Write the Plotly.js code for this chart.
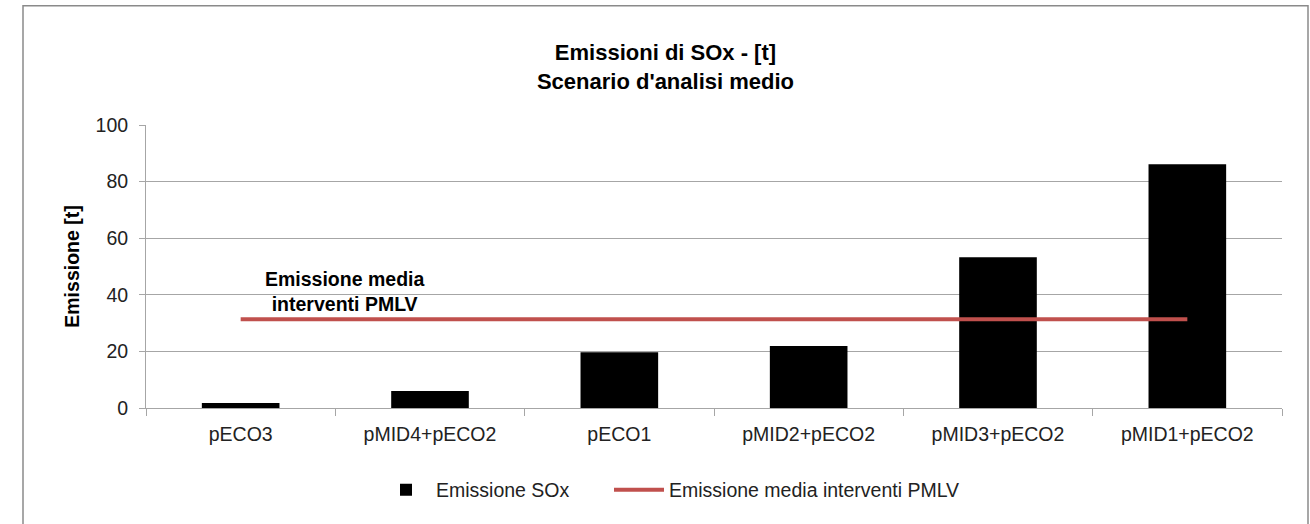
<!DOCTYPE html>
<html>
<head>
<meta charset="utf-8">
<script src="https://cdn.plot.ly/plotly-3.0.1.min.js"></script>
<style>
  html, body { margin: 0; padding: 0; background: #ffffff; }
  #chart { width: 1310px; height: 524px; }
</style>
</head>
<body>
<div id="chart"></div>
<script>
// ---- Data ----
const categories = ["pECO3", "pMID4+pECO2", "pECO1", "pMID2+pECO2", "pMID3+pECO2", "pMID1+pECO2"];
const soxValues = [1.8, 6.0, 19.7, 21.9, 53.3, 86.1];
const meanValue = 31.4;
const meanValues = categories.map(() => meanValue);
const barName = "Emissione SOx";
const lineName = "Emissione media interventi PMLV";
const titleLines = ["Emissioni di SOx - [t]", "Scenario d'analisi medio"];
const yTitle = "Emissione [t]";
const annotationText = "Emissione media<br>interventi PMLV";
const yTicks = [0, 20, 40, 60, 80, 100];

const FONT = "Liberation Sans, Arial, sans-serif";

const traces = [
  {
    type: "bar",
    x: categories,
    y: soxValues,
    name: barName,
    marker: { color: "#000000" },
    legend: "legend",
    hoverinfo: "x+y"
  },
  {
    type: "scatter",
    mode: "lines",
    x: categories,
    y: meanValues,
    name: lineName,
    legend: "legend2",
    line: { color: "#c0504d", width: 4 }
  }
];

const legendCommon = {
  orientation: "h",
  xanchor: "left",
  y: -0.29, yanchor: "middle",
  font: { family: FONT, size: 19.5, color: "#222222" },
  bgcolor: "rgba(0,0,0,0)",
  itemwidth: 50
};

const layout = {
  width: 1310,
  height: 524,
  margin: { l: 146, r: 28, t: 124.5, b: 116, autoexpand: false },
  paper_bgcolor: "#ffffff",
  plot_bgcolor: "#ffffff",
  font: { family: FONT, color: "#000000", size: 18 },
  bargap: 0.59,
  showlegend: true,
  title: {
    text: "<b>" + titleLines.join("<br>") + "</b>",
    font: { family: FONT, size: 22, color: "#000000" },
    x: 0.508, xanchor: "center",
    y: 0.885, yanchor: "middle"
  },
  xaxis: {
    type: "category",
    showgrid: false,
    showline: true,
    linecolor: "#a6a6a6",
    linewidth: 1,
    ticks: "outside",
    tickson: "boundaries",
    ticklen: 7,
    tickcolor: "#a6a6a6",
    ticklabelstandoff: 9,
    tickfont: { family: FONT, size: 19.5, color: "#222222" },
    zeroline: false,
    fixedrange: true
  },
  yaxis: {
    range: [0, 100],
    tickvals: yTicks,
    showgrid: true,
    gridcolor: "#a6a6a6",
    gridwidth: 1,
    showline: true,
    linecolor: "#a6a6a6",
    ticks: "outside",
    ticklen: 6,
    tickcolor: "#a6a6a6",
    ticklabelstandoff: 7,
    tickfont: { family: FONT, size: 19.5, color: "#222222" },
    zeroline: false,
    title: {
      text: "<b>" + yTitle + "</b>",
      font: { family: FONT, size: 19.5, color: "#000000" },
      standoff: 10
    },
    fixedrange: true
  },
  legend: Object.assign({}, legendCommon, { x: (376 - 146) / 1136 }),
  legend2: Object.assign({}, legendCommon, { x: (609 - 146) / 1136 }),
  annotations: [
    {
      xref: "x", yref: "y",
      x: 0.546, y: 41.2,
      text: "<b>" + annotationText + "</b>",
      showarrow: false,
      font: { family: FONT, size: 19.5, color: "#000000" },
      align: "center",
      xanchor: "center", yanchor: "middle"
    }
  ],
  shapes: [
    {
      type: "rect", xref: "paper", yref: "paper",
      x0: (23 - 146) / 1136, x1: (1308 - 146) / 1136,
      y0: (408 - 540) / 283.5, y1: (408 - 5) / 283.5,
      line: { color: "#8a8a8a", width: 1.5 },
      fillcolor: "rgba(0,0,0,0)",
      layer: "below"
    }
  ]
};

Plotly.newPlot("chart", traces, layout, { displayModeBar: false, staticPlot: true });
</script>
</body>
</html>
